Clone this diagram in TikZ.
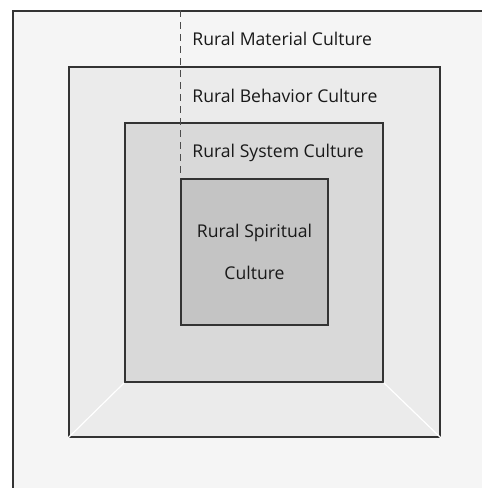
\documentclass[tikz,border=0pt]{standalone}
\usepackage{fontspec}
\setmainfont{Open Sans}
\usetikzlibrary{positioning}

\begin{document}
\begin{tikzpicture}[%
            x=1pt, y=-1pt,
            layer/.style={draw=black!80, line width=1.5pt, inner sep=0pt},
            label/.style={font=\fontsize{17.6}{20}\selectfont, text=black!90, anchor=west, inner sep=0pt}
            ]
            \useasboundingbox (0,0) rectangle (482,488);
            \clip (0,0) rectangle (482,488);
            \node[layer, fill=black!4, minimum width=477pt, minimum height=485pt] (material) at (251.5,253.5) {};
            \node[layer, fill=black!8, minimum width=371pt, minimum height=370pt] (behavior) at (254.5,252) {};
            \node[layer, fill=black!15, minimum width=258pt, minimum height=259pt] (system) at (254,252.5) {};
            \node[layer, fill=black!23, minimum width=147pt, minimum height=146pt] (spiritual) at (254.5,252) {};

            \coordinate (top) at (spiritual.west |- material.north);
            \draw[black!70, line width=0.8pt, dash pattern=on 7pt off 5pt] (top) -- (spiritual.north west);

            \draw[white, line width=1.2pt] (system.south west) -- (behavior.south west);
            \draw[white, line width=1.2pt] (system.south east) -- (behavior.south east);

            \node[label] (materialtext) at ([xshift=12pt]top |- 0,39) {Rural Material Culture};
            \node[label] (behaviortext) at ([xshift=12pt]top |- 0,96) {Rural Behavior Culture};
            \node[label] (systemtext) at ([xshift=12pt]top |- 0,153) {Rural System Culture};
            \node[font=\fontsize{17.6}{42}\selectfont, text=black!90, align=center] (spiritualtext) at (spiritual.center) {Rural Spiritual\\Culture};

        \end{tikzpicture}
\end{document}
